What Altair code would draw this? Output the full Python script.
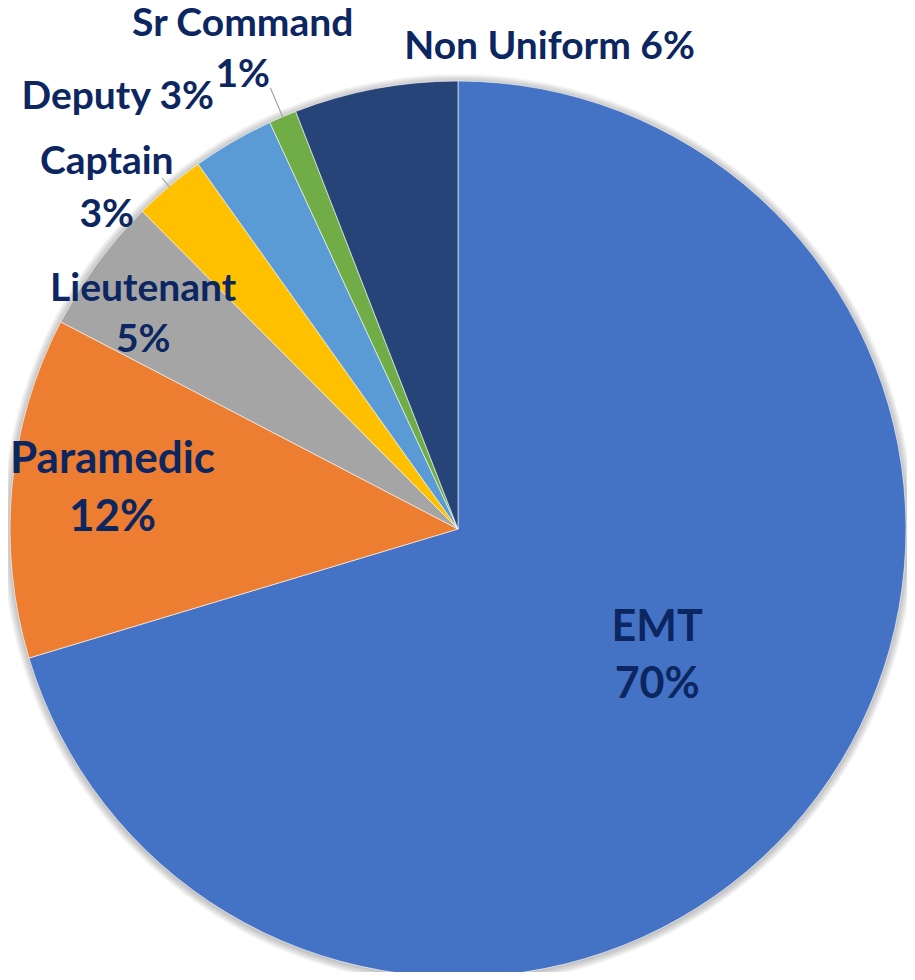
import altair as alt
import pandas as pd

# ---- data ----
categories = ["EMT", "Paramedic", "Lieutenant", "Captain", "Deputy", "Sr Command", "Non Uniform"]
shares = [70.35, 12.3, 4.9, 2.6, 2.95, 1.0, 5.9]
colors = ["#4472C4", "#ED7D31", "#A5A5A5", "#FFC000", "#5B9BD5", "#70AD47", "#264478"]
label_joiners = ["\n", "\n", "\n", "\n", " ", "\n", " "]

total = sum(shares)
labels = [f"{c}{j}{round(v / total * 100)}%" for c, j, v in zip(categories, label_joiners, shares)]

df = pd.DataFrame({
    "idx": list(range(len(categories))),
    "category": categories,
    "share": shares,
    "label": labels,
})

# ---- layout / style ----
CX, CY, R = 450, 521, 448
TEXT_COLOR = "#0B2660"
FONT = "Lato"
# per-label placement: radius along the slice's mid-angle, pixel nudges, font size, line height
label_layout = {
    "EMT":         dict(r=237, dx=9,   dy=-42, size=43, lh=57),
    "Paramedic":   dict(r=348, dx=1,   dy=-36, size=44, lh=58),
    "Lieutenant":  dict(r=381, dx=-8,  dy=-14, size=39, lh=51),
    "Captain":     dict(r=489, dx=-36, dy=7,   size=39, lh=53),
    "Deputy":      dict(r=550, dx=-64, dy=44,  size=39, lh=52),
    "Sr Command":  dict(r=527, dx=-9,  dy=-20, size=39, lh=51),
    "Non Uniform": dict(r=491, dx=182, dy=1,   size=39, lh=52),
}
leader_layout = {
    "Captain": (446, 459),
    "Sr Command": (447, 479),
}

base = (
    alt.Chart(df)
    .transform_window(cum="sum(share)", sort=[alt.SortField("idx")], frame=[None, 0])
    .transform_joinaggregate(total="sum(share)")
    .transform_calculate(
        a1="2*PI*(datum.cum - datum.share)/datum.total",
        a2="2*PI*datum.cum/datum.total",
        amid="PI*(2*datum.cum - datum.share)/datum.total",
    )
)

layers = []

# soft shadow around the pie
for k in range(1, 9):
    layers.append(
        base.transform_filter(alt.datum.idx == 0)
        .mark_arc(radius=R + k, theta=0, theta2=6.2832, color="#000000", opacity=0.03)
        .encode(x=alt.value(CX), y=alt.value(CY + 1))
    )

pie = base.mark_arc(radius=R, stroke="#ffffff", strokeWidth=0.6).encode(
    theta=alt.Theta("a1:Q", scale=None, stack=None),
    theta2="a2:Q",
    color=alt.Color("category:N", scale=alt.Scale(domain=categories, range=colors), legend=None),
    x=alt.value(CX),
    y=alt.value(CY),
)
layers.append(pie)

for cat, (r0, r1) in leader_layout.items():
    layers.append(
        base.transform_filter(alt.datum.category == cat)
        .transform_calculate(t1="datum.amid - 0.0013", t2="datum.amid + 0.0013")
        .mark_arc(radius=r1, radius2=r0, color="#A6A6A6")
        .encode(
            theta=alt.Theta("t1:Q", scale=None, stack=None),
            theta2="t2:Q",
            x=alt.value(CX),
            y=alt.value(CY),
        )
    )

for cat in categories:
    lay = label_layout[cat]
    layers.append(
        base.transform_filter(alt.datum.category == cat)
        .mark_text(
            radius=lay["r"], dx=lay["dx"], dy=lay["dy"],
            fontSize=lay["size"], lineHeight=lay["lh"],
            font=FONT, fontWeight="bold", color=TEXT_COLOR,
            align="center", baseline="middle", lineBreak="\n",
        )
        .encode(
            theta=alt.Theta("amid:Q", scale=None, stack=None),
            text="label:N",
            x=alt.value(CX),
            y=alt.value(CY),
        )
    )

chart = (
    alt.layer(*layers)
    .properties(width=899, height=964, padding=0, autosize=alt.AutoSizeParams(type="none"),
                background="#ffffff")
    .configure_view(stroke=None)
)

chart.save("out.html", embed_options={"renderer": "svg", "actions": False})
